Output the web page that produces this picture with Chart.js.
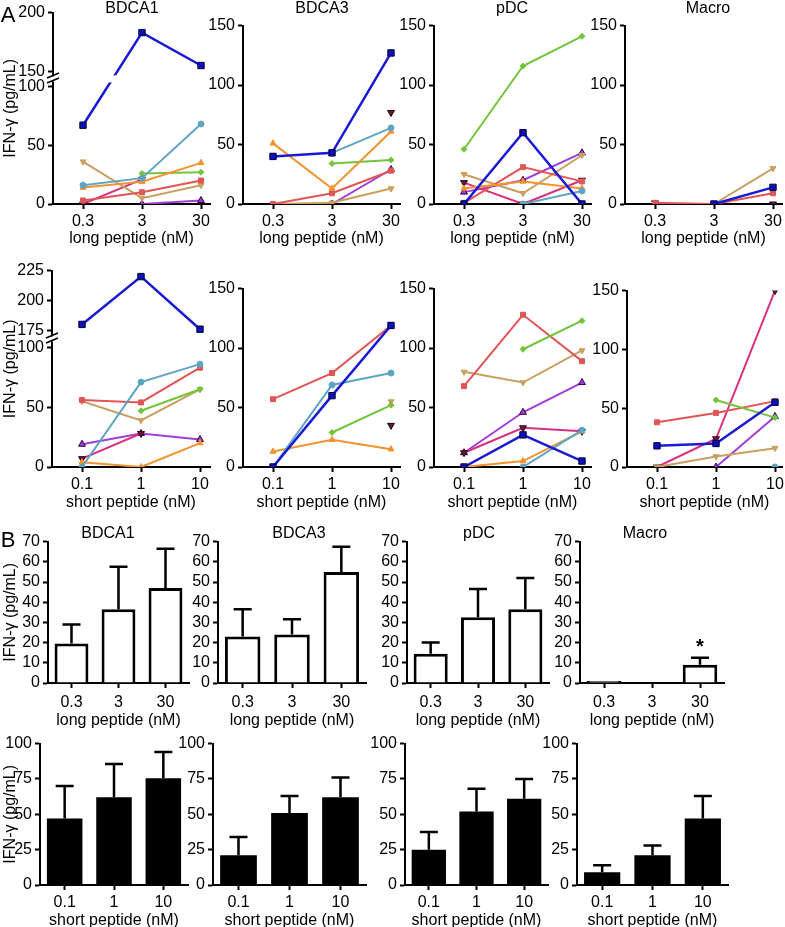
<!DOCTYPE html>
<html>
<head>
<meta charset="utf-8">
<script src="https://cdn.jsdelivr.net/npm/chart.js@4.4.0/dist/chart.umd.min.js"></script>
<style>
body { margin: 0; background: #fff; width: 785px; height: 927px; position: relative; overflow: hidden;
       font-family: "Liberation Sans", Arial, sans-serif; }
canvas { position: absolute; }
.lbl { position: absolute; font-size: 16px; color: #000; transform: translate(-50%, -50%); white-space: nowrap; }
.big { font-size: 22px; }
</style>
</head>
<body>
<script>
// doses and categories
const longDose = [0.3, 3, 30];
const shortDose = [0.1, 1, 10];
const longCats = ['0.3', '3', '30'];
const shortCats = ['0.1', '1', '10'];
const cellTypes = ['BDCA1', 'BDCA3', 'pDC', 'Macro'];

// donors, same order in every panel of A
const donors = ['blue', 'teal', 'orange', 'green', 'red', 'tan', 'magenta', 'purple', 'maroon'];

// A, long peptide, IFN-g per donor
const aLongBDCA1 = [[67, 183, 155], [16, 22, 68], [14, 19, 35], [null, 26, 27], [3, 10, 20], [36, 5, 16], [0, 21, null], [null, 0, 3], [null, null, null]];
const aLongBDCA3 = [[40, 43, 127], [null, 43, 64], [51, 13, 61], [null, 34, 37], [0, 9, 28], [0, 1, 13], [null, null, null], [null, 0, 29], [null, null, 77]];
const aLongPDC = [[0, 60, 0], [null, 0, 11], [13, 19, 13], [46, 116, 141], [1, 31, 19], [25, 9, 41], [18, 0, 20], [10, 20, 43], [null, null, null]];
const aLongMacro = [[null, 0, 14], [null, null, null], [null, null, null], [null, null, null], [1, 0, 9], [null, 0, 30], [null, null, null], [null, null, null], [1, 0, 0]];

// A, short peptide
const aShortBDCA1 = [[180, 220, 176], [0, 71, 86], [4, 0, 20], [null, 47, 65], [56, 54, 83], [55, 39, 65], [7, 28, null], [19, 28, 23], [null, null, null]];
const aShortBDCA3 = [[0, 60, 119], [0, 69, 79], [13, 23, 15], [null, 29, 52], [57, 79, 119], [null, null, 55], [null, null, null], [null, null, null], [null, null, 35]];
const aShortPDC = [[0, 27, 5], [null, 0, 31], [0, 5, 30], [null, 99, 123], [68, 128, 89], [80, 71, 98], [12, 33, 30], [12, 46, 71], [null, null, null]];
const aShortMacro = [[18, 20, 55], [null, null, 0], [null, null, null], [null, 57, 42], [38, 46, 56], [0, 9, 16], [0, 24, 150], [null, 0, 43], [null, null, null]];

// B, mean and upper error
const bLongMean = { BDCA1: [19.5, 36.5, 47], BDCA3: [23, 24, 55], pDC: [14.5, 32.5, 36.5], Macro: [1, 0, 9] };
const bLongErr = { BDCA1: [9.5, 21, 19.5], BDCA3: [13.5, 7.5, 12.5], pDC: [5.5, 14, 15.5], Macro: [0, 0, 3.5] };
const bShortMean = { BDCA1: [47, 62, 75.5], BDCA3: [21, 51, 62], pDC: [25, 52, 61], Macro: [9, 21, 47] };
const bShortErr = { BDCA1: [23, 23.5, 18.5], BDCA3: [13, 12, 14], pDC: [12.5, 16, 14], Macro: [5, 7, 16] };
const bLongMarks = ['', '', '*'];

const yTitle = 'IFN-γ (pg/mL)';

Chart.defaults.font.family = '"Liberation Sans", Arial, sans-serif';
Chart.defaults.color = '#000';

const donorStyle = {
  blue:    { line: '#1a1ad6', fill: '#1010b8', edge: '#000040', shape: 'rect', r: 4.5, rot: 0, w: 2.5 },
  teal:    { line: '#5ea4c4', fill: '#5ea4c4', edge: '#5ea4c4', shape: 'circle', r: 3, rot: 0, w: 2 },
  orange:  { line: '#f39230', fill: '#f39230', edge: '#f39230', shape: 'triangle', r: 3.5, rot: 0, w: 2 },
  green:   { line: '#72c43c', fill: '#72c43c', edge: '#72c43c', shape: 'rectRot', r: 3, rot: 0, w: 2 },
  red:     { line: '#e05656', fill: '#e05656', edge: '#e05656', shape: 'rect', r: 3.5, rot: 0, w: 2 },
  tan:     { line: '#c9a062', fill: '#c9a062', edge: '#c9a062', shape: 'triangle', r: 3.5, rot: 180, w: 2 },
  magenta: { line: '#d8307e', fill: '#6a1838', edge: '#300818', shape: 'triangle', r: 4, rot: 180, w: 2 },
  purple:  { line: '#a03ed8', fill: '#a03ed8', edge: '#300040', shape: 'triangle', r: 4, rot: 0, w: 2 },
  maroon:  { line: '#5a1f3c', fill: '#5a1f3c', edge: '#200010', shape: 'triangle', r: 4, rot: 180, w: 2 }
};

// linear scale with a gap between lo and hi
class BrokenScale extends Chart.LinearScale {
  _k() {
    const b = this.options.brk;
    return (this.bottom - this.top - b.gap) / ((b.lo - this.min) + (this.max - b.hi));
  }
  getPixelForValue(v) {
    if (v === null || v === undefined) return NaN;
    const b = this.options.brk, k = this._k();
    if (v <= b.lo) return this.bottom - (v - this.min) * k;
    if (v >= b.hi) return this.top + (this.max - v) * k;
    const yLo = this.bottom - (b.lo - this.min) * k;
    return yLo - (v - b.lo) / (b.hi - b.lo) * b.gap;
  }
  getValueForPixel(p) {
    const b = this.options.brk, k = this._k();
    const yLo = this.bottom - (b.lo - this.min) * k;
    if (p >= yLo) return this.min + (this.bottom - p) / k;
    if (p <= yLo - b.gap) return this.max - (p - this.top) / k;
    return b.lo + (yLo - p) / b.gap * (b.hi - b.lo);
  }
}
BrokenScale.id = 'broken';
BrokenScale.defaults = Chart.LinearScale.defaults;
Chart.register(BrokenScale);

// small white gap and // marks on broken axes
const breakMarks = {
  id: 'breakMarks',
  afterDatasetsDraw(chart) {
    const ys = chart.scales.y;
    if (!ys || ys.type !== 'broken') return;
    const b = ys.options.brk;
    const yLo = ys.getPixelForValue(b.lo), yHi = ys.getPixelForValue(b.hi);
    const ctx = chart.ctx, ax = chart.chartArea.left, m = (yLo + yHi) / 2;
    ctx.save();
    ctx.fillStyle = '#fff';
    ctx.fillRect(ax + 2, m - 3.5, chart.chartArea.right - ax, 7);
    ctx.fillRect(ax - 3, m - 2.5, 6, 5);
    ctx.strokeStyle = '#000';
    ctx.lineWidth = 1.6;
    ctx.beginPath();
    ctx.moveTo(ax - 6, m - 1); ctx.lineTo(ax + 6, m - 6);
    ctx.moveTo(ax - 6, m + 4); ctx.lineTo(ax + 6, m - 1);
    ctx.stroke();
    ctx.restore();
  }
};

// one-sided error bars and significance marks
const errBars = {
  id: 'errBars',
  afterDatasetsDraw(chart) {
    const ds = chart.data.datasets[0];
    if (!ds.err) return;
    const ys = chart.scales.y, ctx = chart.ctx;
    const meta = chart.getDatasetMeta(0);
    ctx.save();
    ctx.strokeStyle = '#000';
    ctx.lineWidth = 2.5;
    meta.data.forEach((bar, i) => {
      const e = ds.err[i];
      const yTop = ys.getPixelForValue(ds.data[i] + e);
      if (e) {
        const yMid = ys.getPixelForValue(ds.data[i]);
        ctx.beginPath();
        ctx.moveTo(bar.x, yMid); ctx.lineTo(bar.x, yTop);
        ctx.moveTo(bar.x - 9, yTop); ctx.lineTo(bar.x + 9, yTop);
        ctx.stroke();
      }
      if (ds.marks && ds.marks[i]) {
        ctx.fillStyle = '#000';
        ctx.font = 'bold 20px "Liberation Sans", Arial, sans-serif';
        ctx.textAlign = 'center';
        ctx.textBaseline = 'middle';
        ctx.fillText(ds.marks[i], bar.x, yTop - 10);
      }
    });
    ctx.restore();
  }
};
Chart.register(breakMarks, errBars);

function addLabel(text, x, y, cls) {
  const d = document.createElement('div');
  d.className = 'lbl' + (cls ? ' ' + cls : '');
  d.textContent = text;
  d.style.left = x + 'px';
  d.style.top = y + 'px';
  document.body.appendChild(d);
}

function makeCanvas(id, L, T, R, B, padL, padT, padR, padB) {
  const c = document.createElement('canvas');
  const w = R - L + padL + padR, h = B - T + padT + padB;
  c.id = id; c.width = w; c.height = h;
  c.style.left = (L - padL) + 'px';
  c.style.top = (T - padT) + 'px';
  c.style.width = w + 'px';
  c.style.height = h + 'px';
  document.body.appendChild(c);
  return c;
}

function yAxis(padL, showTitle, extra) {
  return Object.assign({
    position: 'left',
    border: { display: true, color: '#000', width: 2 },
    grid: { drawOnChartArea: false, drawTicks: true, tickLength: 5, tickWidth: 2, tickColor: '#000' },
    ticks: { color: '#000', font: { size: 16 }, padding: 3, autoSkip: false },
    title: { display: showTitle, text: yTitle, font: { size: 16 }, padding: { top: 1, bottom: 0 } },
    afterFit: s => { s.width = padL; }
  }, extra);
}

function xTitleOpts(text) {
  return { display: true, text: text, font: { size: 16 }, padding: { top: 0, bottom: 0 } };
}

function linePanel(id, box, doses, rows, yExtra, showTitle, xText) {
  const padL = box.padL, padT = Math.min(box.T, 12), padR = 6, padB = box.padB;
  const canvas = makeCanvas(id, box.L, box.T, box.R, box.B, padL, padT, padR, padB);
  const W = box.R - box.L;
  const xmin = doses[0] / Math.pow(10, box.off / box.dec);
  const xmax = doses[2] * Math.pow(10, (W - box.off - 2 * box.dec) / box.dec);
  const datasets = [];
  rows.forEach((vals, i) => {
    if (vals.every(v => v === null)) return;
    const st = donorStyle[donors[i]];
    datasets.push({
      label: donors[i],
      data: vals,
      borderColor: st.line,
      borderWidth: st.w,
      pointStyle: st.shape,
      pointRotation: st.rot,
      pointRadius: st.r,
      pointBackgroundColor: st.fill,
      pointBorderColor: st.edge,
      pointBorderWidth: 1,
      showLine: donors[i] !== 'maroon',
      spanGaps: false,
      tension: 0
    });
  });
  return new Chart(canvas, {
    type: 'line',
    data: { labels: doses, datasets: datasets },
    options: {
      responsive: false,
      animation: false,
      devicePixelRatio: 1,
      layout: { padding: { left: 0, top: padT, right: padR, bottom: 0 } },
      plugins: { legend: { display: false }, tooltip: { enabled: false } },
      scales: {
        x: {
          type: 'logarithmic',
          position: 'bottom',
          min: xmin,
          max: xmax,
          bounds: 'data',
          afterBuildTicks: s => { s.ticks = doses.map(v => ({ value: v })); },
          border: { display: true, color: '#000', width: 2 },
          grid: { drawOnChartArea: false, drawTicks: true, tickLength: 5, tickWidth: 2, tickColor: '#000' },
          ticks: { color: '#000', font: { size: 16 }, padding: 3, autoSkip: false, maxRotation: 0, callback: v => String(v) },
          title: xTitleOpts(xText),
          afterFit: s => { s.height = padB; }
        },
        y: yAxis(padL, showTitle, yExtra)
      }
    }
  });
}

function barPanel(id, box, cats, means, errs, marks, filled, yExtra, showTitle, xText) {
  const padL = box.padL, padT = 12, padR = 6, padB = box.padB;
  const canvas = makeCanvas(id, box.L, box.T, box.R, box.B, padL, padT, padR, padB);
  return new Chart(canvas, {
    type: 'bar',
    data: {
      labels: cats,
      datasets: [{
        data: means,
        err: errs,
        marks: marks,
        backgroundColor: filled ? '#000' : '#fff',
        borderColor: '#000',
        borderWidth: filled ? 0 : 3,
        barPercentage: 0.72,
        categoryPercentage: 1
      }]
    },
    options: {
      responsive: false,
      animation: false,
      devicePixelRatio: 1,
      layout: { padding: { left: 0, top: padT, right: padR, bottom: 0 } },
      plugins: { legend: { display: false }, tooltip: { enabled: false } },
      scales: {
        x: {
          position: 'bottom',
          border: { display: true, color: '#000', width: 2 },
          grid: { display: true, offset: false, drawOnChartArea: false, drawTicks: true, tickLength: 5, tickWidth: 2, tickColor: '#000' },
          ticks: { color: '#000', font: { size: 16 }, padding: box.tickPad, autoSkip: false, maxRotation: 0 },
          title: xTitleOpts(xText),
          afterFit: s => { s.height = padB; }
        },
        y: yAxis(padL, showTitle, yExtra)
      }
    }
  });
}

// layout of the four columns in each row
const rowA1 = { L: [53, 243, 434, 625], R: [210, 400, 591, 782], T: [10, 25, 25, 25], B: 204, padB: 44, off: 30, dec: 59 };
const rowA2 = { L: [52, 243, 434, 627], R: [210, 400, 591, 782], T: [270, 288, 288, 290], B: 467, padB: 45, off: 30, dec: 59 };
const rowB1 = { L: [48, 218, 407, 580], R: [189, 366, 549, 724], T: 541, B: 683, padB: 47, tickPad: 5 };
const rowB2 = { L: [40, 213, 405, 577], R: [188, 366, 548, 728], T: 743, B: 885, padB: 45, tickPad: 3 };

function boxOf(row, c) {
  return {
    L: row.L[c], R: row.R[c], T: Array.isArray(row.T) ? row.T[c] : row.T, B: row.B,
    padL: c === 0 ? row.L[c] : 44, padB: row.padB, off: row.off, dec: row.dec, tickPad: row.tickPad
  };
}

const yTicks = step => ({ color: '#000', font: { size: 16 }, padding: 3, stepSize: step, autoSkip: false });
const y150 = { type: 'linear', min: 0, max: 150, ticks: yTicks(50) };

const aLong = [aLongBDCA1, aLongBDCA3, aLongPDC, aLongMacro];
const aShort = [aShortBDCA1, aShortBDCA3, aShortPDC, aShortMacro];
const brokenTop = {
  type: 'broken', min: 0, max: 200, bounds: 'data', brk: { lo: 100, hi: 150, gap: 15 },
  afterBuildTicks: s => { s.ticks = [0, 50, 100, 150, 200].map(v => ({ value: v })); }
};
const brokenBottom = {
  type: 'broken', min: 0, max: 225, bounds: 'data', brk: { lo: 100, hi: 175, gap: 17 },
  afterBuildTicks: s => { s.ticks = [0, 50, 100, 175, 200, 225].map(v => ({ value: v })); }
};

for (let c = 0; c < 4; c++) {
  linePanel('aL' + c, boxOf(rowA1, c), longDose, aLong[c], c === 0 ? brokenTop : y150, c === 0, 'long peptide (nM)');
  linePanel('aS' + c, boxOf(rowA2, c), shortDose, aShort[c], c === 0 ? brokenBottom : y150, c === 0, 'short peptide (nM)');
  const t = cellTypes[c];
  barPanel('bL' + c, boxOf(rowB1, c), longCats, bLongMean[t], bLongErr[t], t === 'Macro' ? bLongMarks : null, false,
    { type: 'linear', min: 0, max: 70, ticks: yTicks(10) }, c === 0, 'long peptide (nM)');
  barPanel('bS' + c, boxOf(rowB2, c), shortCats, bShortMean[t], bShortErr[t], null, true,
    { type: 'linear', min: 0, max: 100, ticks: yTicks(25) }, c === 0, 'short peptide (nM)');
}

// panel letters and titles
addLabel('A', 8, 15, 'big');
addLabel('B', 8, 540, 'big');
const titleAx = [132, 322, 512, 708];
const titleBx = [108, 299, 479, 645];
cellTypes.forEach((t, c) => {
  addLabel(t, titleAx[c], 8);
  addLabel(t, titleBx[c], 533);
});
</script>
</body>
</html>
